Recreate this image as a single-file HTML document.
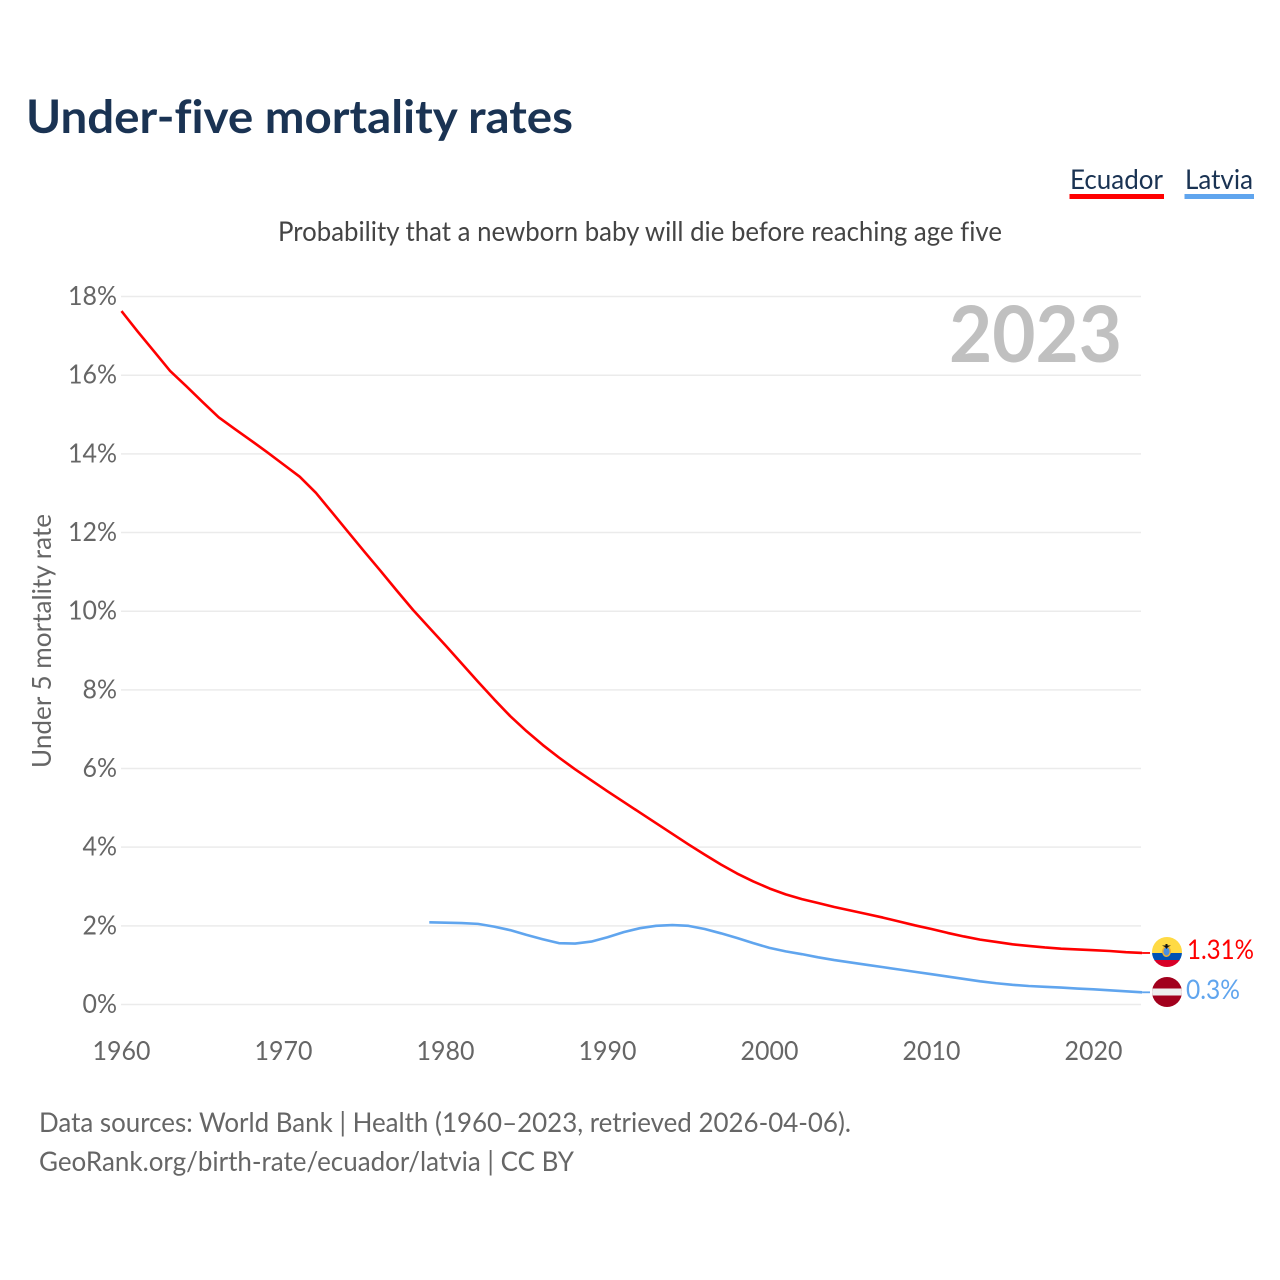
<!DOCTYPE html>
<html lang="en">
<head>
<meta charset="utf-8">
<title>Under-five mortality rates</title>
<style>
html,body{margin:0;padding:0;background:#fff;width:1280px;height:1280px;overflow:hidden}
svg{display:block;font-family:"Lato","Carlito","Liberation Sans",sans-serif;font-variant-ligatures:none}
</style>
</head>
<body>
<svg id="chart" width="1280" height="1280" viewBox="0 0 1280 1280" xmlns="http://www.w3.org/2000/svg">
  <text x="26" y="133" font-size="46" font-weight="700" fill="#1a3353" textLength="547" lengthAdjust="spacingAndGlyphs">Under-five mortality rates</text>
  <g>
    <text x="1070" y="189" font-size="27" fill="#1a3353" textLength="93" lengthAdjust="spacingAndGlyphs">Ecuador</text>
    <rect x="1069.500" y="194" width="94.500" height="5" fill="#ff0000"/>
  </g>
  <g>
    <text x="1185" y="189" font-size="27" fill="#1a3353" textLength="68" lengthAdjust="spacingAndGlyphs">Latvia</text>
    <rect x="1184.500" y="194" width="69.500" height="5" fill="#60a5ee"/>
  </g>
  <text x="278" y="241" font-size="27" fill="#444444" textLength="724" lengthAdjust="spacingAndGlyphs">Probability that a newborn baby will die before reaching age five</text>
  <g id="grid"></g>
  <text x="1122" y="362" text-anchor="end" font-size="78" font-weight="700" fill="#c0c0c0" textLength="173" lengthAdjust="spacingAndGlyphs">2023</text>
  <g id="ylabels"></g>
  <g id="xlabels"></g>
  <text transform="translate(51,768) rotate(-90)" font-size="26" fill="#666666" textLength="254" lengthAdjust="spacingAndGlyphs">Under 5 mortality rate</text>
  <g id="series"></g>

  <defs>
    <clipPath id="clip-ec"><circle cx="1167" cy="952" r="15"/></clipPath>
    <clipPath id="clip-lv"><circle cx="1167" cy="992" r="15"/></clipPath>
  </defs>
  <g clip-path="url(#clip-ec)">
    <rect x="1152" y="937" width="30" height="16" fill="#ffda44"/>
    <rect x="1152" y="953" width="30" height="8" fill="#0052b4"/>
    <rect x="1152" y="960" width="30" height="8" fill="#d80027"/>
    <ellipse cx="1166.500" cy="951.500" rx="4.500" ry="5.500" fill="#f0b030"/>
    <ellipse cx="1166.500" cy="951.500" rx="3" ry="4" fill="#4a90e2"/>
    <path d="M1162 945.500h9l-3 1.500-1.500 2-1.500-2z M1165.500 944h2v2h-2z" fill="#111"/>
  </g>
  <g clip-path="url(#clip-lv)">
    <rect x="1152" y="977" width="30" height="30" fill="#a2001d"/>
    <rect x="1152" y="988.500" width="30" height="7" fill="#eeeeee"/>
  </g>
  <text x="1187" y="959" font-size="27" fill="#ff0000" textLength="67" lengthAdjust="spacingAndGlyphs">1.31%</text>
  <text x="1186" y="999" font-size="27" fill="#60a5ee" textLength="54" lengthAdjust="spacingAndGlyphs">0.3%</text>

  <text x="39" y="1132" font-size="27" fill="#666666" textLength="812" lengthAdjust="spacingAndGlyphs">Data sources: World Bank | Health (1960–2023, retrieved 2026-04-06).</text>
  <text x="39" y="1171" font-size="27" fill="#666666" textLength="535" lengthAdjust="spacingAndGlyphs">GeoRank.org/birth-rate/ecuador/latvia | CC BY</text>
</svg>
<script>
var yTickValues = [0, 2, 4, 6, 8, 10, 12, 14, 16, 18];
var xTickValues = [1960, 1970, 1980, 1990, 2000, 2010, 2020];
var ecuadorStartYear = 1960;
var ecuadorValues = [17.63, 17.11, 16.61, 16.11, 15.72, 15.32, 14.93, 14.63, 14.34, 14.04, 13.73, 13.42, 13.01, 12.51, 12.01, 11.51, 11.02, 10.52, 10.03, 9.58, 9.13, 8.67, 8.21, 7.76, 7.33, 6.95, 6.6, 6.28, 5.98, 5.7, 5.42, 5.15, 4.88, 4.61, 4.34, 4.07, 3.81, 3.56, 3.33, 3.13, 2.95, 2.8, 2.68, 2.58, 2.48, 2.39, 2.3, 2.21, 2.11, 2.01, 1.92, 1.82, 1.73, 1.65, 1.59, 1.53, 1.49, 1.45, 1.42, 1.4, 1.38, 1.36, 1.33, 1.31];
var latviaStartYear = 1979;
var latviaValues = [2.09, 2.08, 2.07, 2.05, 1.98, 1.89, 1.77, 1.66, 1.56, 1.55, 1.6, 1.71, 1.84, 1.94, 2.0, 2.02, 2.0, 1.92, 1.81, 1.69, 1.56, 1.44, 1.35, 1.28, 1.2, 1.13, 1.07, 1.01, 0.95, 0.89, 0.83, 0.77, 0.71, 0.65, 0.59, 0.54, 0.5, 0.47, 0.45, 0.43, 0.405, 0.385, 0.36, 0.335, 0.31];

var SVGNS = 'http://www.w3.org/2000/svg';
function xScale(year) { return 121.5 + (year - 1960) * 16.2; }
function yScale(v) { return 1004.5 - v * 39.33; }
function make(tag, attrs, parent) {
  var el = document.createElementNS(SVGNS, tag);
  for (var k in attrs) el.setAttribute(k, attrs[k]);
  parent.appendChild(el);
  return el;
}
function condense(t) {
  t.setAttribute('textLength', (t.getComputedTextLength() * 0.96).toFixed(2));
  t.setAttribute('lengthAdjust', 'spacingAndGlyphs');
}
var grid = document.getElementById('grid');
var ylabels = document.getElementById('ylabels');
var xlabels = document.getElementById('xlabels');
var series = document.getElementById('series');

yTickValues.forEach(function (v) {
  var line = make('line', {x1: 121, x2: 1141, y1: yScale(v), y2: yScale(v), stroke: '#ebebeb', 'stroke-width': 1.5}, grid);
  
  
  var t = make('text', {x: 117, y: yScale(v) + 8.5, 'text-anchor': 'end', 'font-size': 26, fill: '#666666'}, ylabels);
  
  
  t.textContent = v + '%';
  condense(t);
});
xTickValues.forEach(function (y) {
  var t = make('text', {x: xScale(y), y: 1060, 'text-anchor': 'middle', 'font-size': 26, fill: '#666666'}, xlabels);
  
  
  t.textContent = y;
  condense(t);
});
function drawLine(values, startYear, color, name) {
  var pts = values.map(function (v, i) { return xScale(startYear + i).toFixed(2) + ',' + yScale(v).toFixed(2); });
  var last = values[values.length - 1];
  var pl = make('polyline', {points: pts.join(' '), fill: 'none', stroke: color, 'stroke-width': 2.6, 'stroke-linejoin': 'round'}, series);
  
  
  var lastX = xScale(startYear + values.length - 1);
  var lead = make('line', {x1: lastX, x2: 1150, y1: yScale(last), y2: yScale(last), stroke: color, 'stroke-width': 1.8}, series);
  
  
}
drawLine(ecuadorValues, ecuadorStartYear, '#ff0000', 'line-ecuador');
drawLine(latviaValues, latviaStartYear, '#60a5ee', 'line-latvia');
</script>
</body>
</html>
